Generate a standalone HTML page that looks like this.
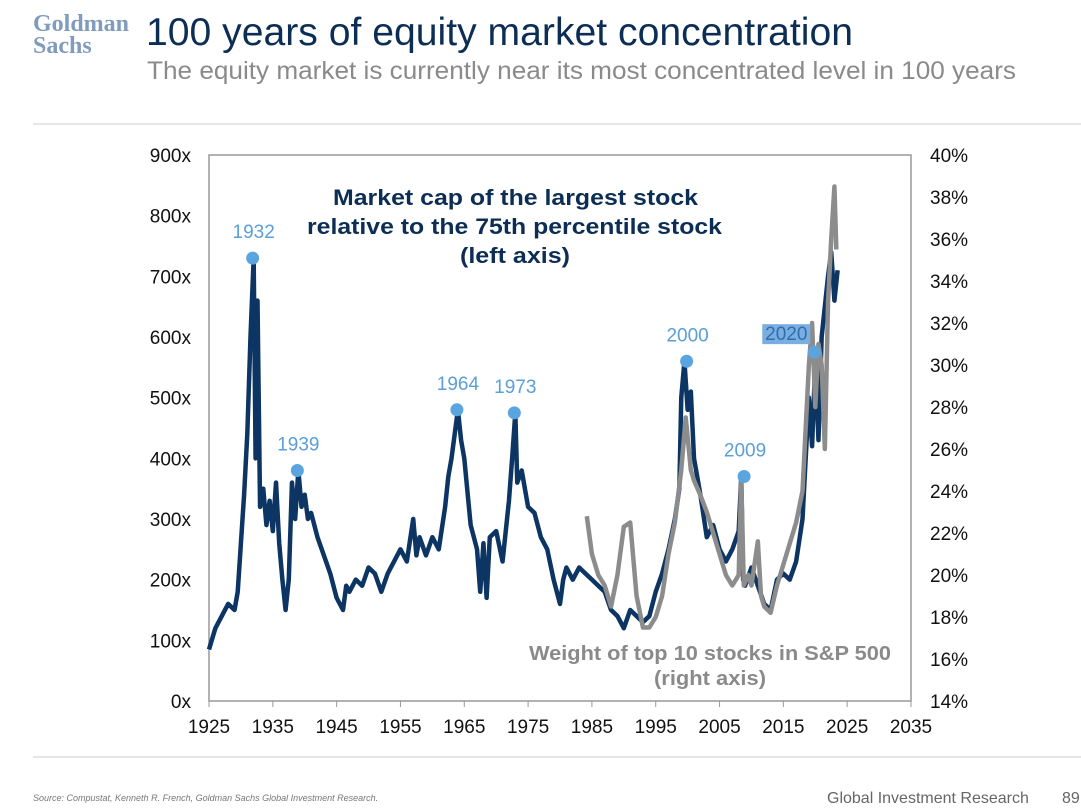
<!DOCTYPE html>
<html><head><meta charset="utf-8"><style>
body{margin:0;width:1081px;height:810px;background:#fff;overflow:hidden;font-family:"Liberation Sans",sans-serif;}
</style></head><body>
<svg width="1081" height="810" style="position:absolute;left:0;top:0">
<text x="33" y="31" font-family="Liberation Serif,serif" font-weight="bold" font-size="24" fill="#7f9bbd">Goldman</text>
<text x="33" y="53" font-family="Liberation Serif,serif" font-weight="bold" font-size="24" fill="#7f9bbd">Sachs</text>
<text x="146" y="45" font-size="39" fill="#0c2e55" textLength="707" lengthAdjust="spacingAndGlyphs">100 years of equity market concentration</text>
<text x="147" y="79" font-size="25" fill="#8a8a8a" textLength="869" lengthAdjust="spacingAndGlyphs">The equity market is currently near its most concentrated level in 100 years</text>
<line x1="33" y1="124" x2="1081" y2="124" stroke="#ccc"/>
<line x1="33" y1="757" x2="1081" y2="757" stroke="#ccc"/>
<text x="33" y="801" font-size="9" font-style="italic" fill="#777">Source: Compustat, Kenneth R. French, Goldman Sachs Global Investment Research.</text>
<text x="827" y="803" font-size="16" fill="#666">Global Investment Research</text>
<text x="1062" y="803" font-size="16" fill="#666">89</text>
<rect x="209" y="155" width="702" height="546" fill="none" stroke="#999" stroke-width="1.5"/>
<g id="axes"></g>
<g id="series"></g>
<text x="333" y="205" font-size="22" font-weight="bold" fill="#0c2e55" textLength="365" lengthAdjust="spacingAndGlyphs">Market cap of the largest stock</text>
<text x="307" y="234" font-size="22" font-weight="bold" fill="#0c2e55" textLength="415" lengthAdjust="spacingAndGlyphs">relative to the 75th percentile stock</text>
<text x="460" y="263" font-size="22" font-weight="bold" fill="#0c2e55" textLength="110" lengthAdjust="spacingAndGlyphs">(left axis)</text>
<text x="529" y="660" font-size="20" font-weight="bold" fill="#8a8a8a" textLength="362" lengthAdjust="spacingAndGlyphs">Weight of top 10 stocks in S&amp;P 500</text>
<text x="654" y="685" font-size="20" font-weight="bold" fill="#8a8a8a" textLength="112" lengthAdjust="spacingAndGlyphs">(right axis)</text>
</svg>
<script>
const xTicks=[1925,1935,1945,1955,1965,1975,1985,1995,2005,2015,2025,2035];
const leftTicks=[0,100,200,300,400,500,600,700,800,900];
const rightTicks=[14,16,18,20,22,24,26,28,30,32,34,36,38,40];
const darkYears=[1925,1926,1927,1928,1929,1929.5,1930,1930.5,1931,1931.5,1932,1932.3,1932.6,1933,1933.5,1934,1934.5,1935,1935.5,1936,1936.5,1937,1937.5,1938,1938.5,1939,1939.5,1940,1940.5,1941,1942,1943,1944,1945,1946,1946.5,1947,1948,1949,1950,1951,1952,1953,1954,1955,1956,1957,1957.5,1958,1959,1960,1961,1962,1962.5,1963,1963.5,1964,1964.5,1965,1966,1967,1967.5,1968,1968.5,1969,1970,1971,1972,1972.5,1973,1973.3,1974,1975,1976,1977,1978,1979,1980,1980.5,1981,1982,1983,1984,1985,1986,1987,1988,1989,1990,1991,1992,1993,1994,1995,1996,1997,1998,1998.7,1999,1999.5,2000,2000.5,2001,2002,2003,2004,2005,2006,2007,2008,2008.4,2008.7,2009,2010,2011,2012,2013,2014,2015,2016,2017,2018,2019,2019.5,2020,2020.5,2021,2022,2022.5,2023,2023.5];
const darkValues=[85,120,140,160,150,180,260,340,440,600,730,400,660,320,350,290,330,280,360,260,200,150,200,360,300,380,320,340,300,310,270,240,210,170,150,190,180,200,190,220,210,180,210,230,250,230,300,240,270,240,270,250,320,370,400,440,480,430,400,290,250,180,260,170,270,280,230,330,400,475,360,380,320,310,270,250,200,160,200,220,200,220,210,200,190,180,150,140,120,150,140,130,140,180,210,250,300,350,500,560,480,510,400,340,270,290,250,230,250,280,370,200,190,220,190,160,150,200,210,200,230,300,500,420,560,430,600,700,740,660,710];
const grayYears=[1984.2,1985,1986,1987,1988,1989,1990,1991,1992,1993,1994,1995,1996,1997,1998,1999,1999.7,2000.5,2001,2002,2003,2004,2005,2006,2007,2008,2008.4,2008.8,2009.5,2010,2011,2011.5,2012,2013,2014,2015,2016,2017,2018,2019,2019.5,2020,2020.5,2021,2021.5,2022,2022.5,2023,2023.3];
const grayValues=[22.8,21,20,19.5,18.5,20,22.3,22.5,19,17.5,17.5,18,19,21,22.5,25,27.5,25,24.5,23.8,23,22,21,20,19.5,20,24.6,19.5,20,19.5,21.6,19,18.5,18.2,19.5,20.5,21.5,22.5,24,30,32,28,31,30,26,33,36,38.5,35.5];
const peakYears=[1932,1939,1964,1973,2000,2009,2020];
const peakValues=[730,380,480,475,560,370,575];
const peakLabels=["1932","1939","1964","1973","2000","2009","2020"];
const X=y=>209+(y-1925)*702/110;
const YL=v=>701-v*546/900;
const YR=p=>701-(p-14)*546/26;
const NS="http://www.w3.org/2000/svg";
function mk(tag,attrs,parent){const e=document.createElementNS(NS,tag);for(const k in attrs)e.setAttribute(k,attrs[k]);parent.appendChild(e);return e;}
const ax=document.getElementById('axes'),sr=document.getElementById('series');
xTicks.forEach(t=>{
 const l=mk('line',{x1:X(t),x2:X(t),y1:701,y2:707,stroke:'#999'},ax);
 
 
 const tx=mk('text',{x:X(t),y:733,'text-anchor':'middle','font-size':19,fill:'#111'},ax);tx.textContent=t;
 
 
});
leftTicks.forEach(t=>{
 const tx=mk('text',{x:191,y:YL(t)+7,'text-anchor':'end','font-size':19,fill:'#111'},ax);tx.textContent=t+'x';
 
 
});
rightTicks.forEach(t=>{
 const tx=mk('text',{x:930,y:YR(t)+7,'font-size':19,fill:'#111'},ax);tx.textContent=t+'%';
 
 
});
const dp=mk('polyline',{points:darkYears.map((y,i)=>X(y)+','+YL(darkValues[i])).join(' '),fill:'none',stroke:'#0c3563','stroke-width':4.5,'stroke-linejoin':'round'},sr);


const gp=mk('polyline',{points:grayYears.map((y,i)=>X(y)+','+YR(grayValues[i])).join(' '),fill:'none',stroke:'#8c8c8c','stroke-width':4.5,'stroke-linejoin':'round'},sr);


peakYears.forEach((y,i)=>{
 const c=mk('circle',{cx:X(y)-1,cy:YL(peakValues[i]),r:6.5,fill:'#5aa5e0'},sr);
 
 
 if(peakLabels[i]==='2020') mk('rect',{x:X(y)-53,y:YL(peakValues[i])-28,width:48,height:20,fill:'#7aaee0'},sr);
 const lx=peakLabels[i]==='2020'?X(y)-29:X(y);
 const ly=peakLabels[i]==='2020'?YL(peakValues[i])-12:YL(peakValues[i])-20;
 const t=mk('text',{x:lx,y:ly,'text-anchor':'middle','font-size':19,fill:peakLabels[i]==='2020'?'#2d6fae':'#5b9fd6'},sr);t.textContent=peakLabels[i];
 
 
});
</script>
</body></html>
